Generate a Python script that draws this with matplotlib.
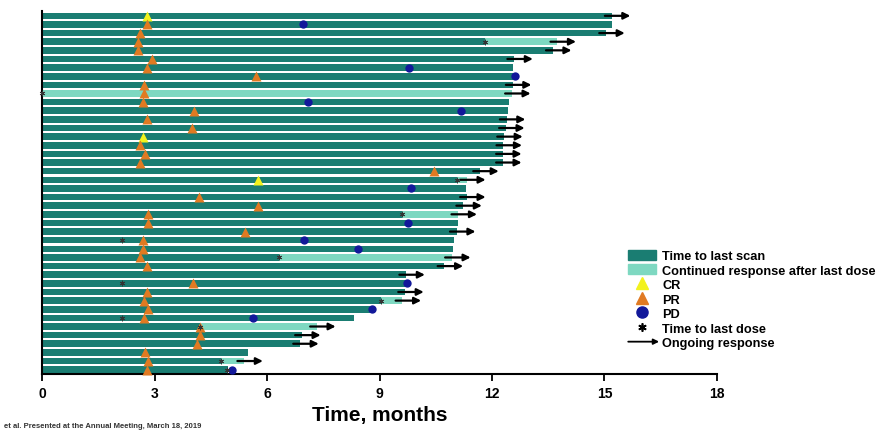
import numpy as np
import matplotlib
matplotlib.use("Agg")
import matplotlib.pyplot as plt
from matplotlib.patches import Patch, FancyArrowPatch
from matplotlib.lines import Line2D
from matplotlib.legend_handler import HandlerBase

plt.rcParams['font.family'] = ['Liberation Sans', 'DejaVu Sans']
plt.rcParams['font.weight'] = 'bold'

nan = np.nan

# one entry per patient, top row first (months)
scan_end = [15.19, 15.21, 15.04, 11.81, 13.62, 12.59, 12.57, 12.56, 12.55, 0.0,
            12.46, 12.43, 12.39, 12.37, 12.32, 12.30, 12.29, 12.29, 11.68, 11.06,
            11.31, 11.33, 11.23, 9.59, 11.09, 11.06, 11.00, 10.95, 6.33, 10.73,
            9.71, 9.71, 9.68, 9.03, 8.83, 8.33, 4.21, 6.93, 6.88, 5.50,
            4.77, 4.96]
resp_end = [nan, nan, nan, 13.74, nan, nan, nan, nan, nan, 12.53,
            nan, nan, nan, nan, nan, nan, nan, nan, nan, 11.33,
            nan, nan, nan, 11.10, nan, nan, nan, nan, 10.93, nan,
            nan, nan, nan, 9.61, nan, nan, 7.33, nan, nan, nan,
            5.39, nan]
last_dose = [nan, nan, nan, 11.81, nan, nan, nan, nan, nan, 0.0,
             nan, nan, nan, nan, nan, nan, nan, nan, nan, 11.06,
             nan, nan, nan, 9.59, nan, nan, 2.13, nan, 6.33, nan,
             nan, 2.13, nan, 9.03, nan, 2.13, 4.21, nan, nan, nan,
             4.77, 4.93]
ongoing = [1, 0, 1, 1, 1, 1, 0, 0, 1, 1,
           0, 0, 1, 1, 1, 1, 1, 1, 1, 1,
           0, 1, 1, 1, 0, 1, 0, 0, 1, 1,
           1, 0, 1, 1, 0, 0, 1, 1, 1, 0,
           1, 0]
resp_time = [2.79, 2.79, 2.61, 2.55, 2.55, 2.93, 2.79, 5.71, 2.73, 2.73,
             2.69, 4.05, 2.79, 3.99, 2.69, 2.61, 2.75, 2.61, 10.46, 5.75,
             nan, 4.19, 5.75, 2.82, 2.83, 5.41, 2.70, 2.69, 2.61, 2.79,
             nan, 4.02, 2.79, 2.73, 2.83, 2.73, 4.21, 4.21, 4.14, 2.75,
             2.82, 2.79]
resp_type = ['CR', 'PR', 'PR', 'PR', 'PR', 'PR', 'PR', 'PR', 'PR', 'PR',
             'PR', 'PR', 'PR', 'PR', 'CR', 'PR', 'PR', 'PR', 'PR', 'CR',
             None, 'PR', 'PR', 'PR', 'PR', 'PR', 'PR', 'PR', 'PR', 'PR',
             None, 'PR', 'PR', 'PR', 'PR', 'PR', 'PR', 'PR', 'PR', 'PR',
             'PR', 'PR']
pd_time = [nan, 6.97, nan, nan, nan, nan, 9.79, 12.61, nan, nan,
           7.10, 11.17, nan, nan, nan, nan, nan, nan, nan, nan,
           9.84, nan, nan, nan, 9.77, nan, 6.99, 8.43, nan, nan,
           nan, 9.74, nan, nan, 8.79, 5.62, nan, nan, nan, nan,
           nan, 5.06]

xticks = [0, 3, 6, 9, 12, 15, 18]

dark = '#1a7d72'
light = '#7ed8c1'
cr_col = '#f2f21e'
pr_col = '#e07a22'
pd_col = '#12189a'

n = len(scan_end)
y = np.arange(n)[::-1]
scan_end = np.array(scan_end)
resp_end = np.array(resp_end)
last_dose = np.array(last_dose)
resp_time = np.array(resp_time, dtype=float)
pd_time = np.array(pd_time)

fig = plt.figure(figsize=(8.94, 4.31), dpi=100)
ax = fig.add_axes([0.047, 0.130, 0.755, 0.843])

bh = 0.76
ax.barh(y, scan_end, height=bh, color=dark, zorder=2)
has_light = ~np.isnan(resp_end)
ax.barh(y[has_light], resp_end[has_light] - scan_end[has_light],
        left=scan_end[has_light], height=bh, color=light, zorder=2)

# arrows for ongoing responses
tot_end = np.where(has_light, resp_end, scan_end)
for yi, e, og in zip(y, tot_end, ongoing):
    if og:
        ax.annotate('', xy=(e + 0.5, yi), xytext=(e - 0.18, yi),
                    arrowprops=dict(arrowstyle='-|>', color='black', lw=1.6,
                                    mutation_scale=10, shrinkA=0, shrinkB=0),
                    zorder=4)

rt = np.array([t == 'CR' for t in resp_type])
pr = np.array([t == 'PR' for t in resp_type])
ax.plot(resp_time[rt], y[rt], ls='none', marker='^', ms=6.5, color=cr_col,
        mec='none', zorder=5, clip_on=False)
ax.plot(resp_time[pr], y[pr], ls='none', marker='^', ms=6.5, color=pr_col,
        mec='none', zorder=5, clip_on=False)
ok = ~np.isnan(pd_time)
ax.plot(pd_time[ok], y[ok], ls='none', marker='o', ms=6, color=pd_col,
        mec='none', zorder=5)
ok = ~np.isnan(last_dose)
ax.plot(last_dose[ok], y[ok], ls='none', marker=(6, 2, 0), ms=4, color='#333333',
        mew=0.6, zorder=6, clip_on=False)

ax.set_xlim(0, 18)
ax.set_ylim(-0.5, 41.6)
ax.set_yticks([])
ax.set_xticks(xticks)
ax.set_xticklabels([str(t) for t in xticks], fontsize=10, fontweight='bold')
ax.tick_params(axis='x', direction='out', length=5, width=1.3, pad=4)
for s in ['top', 'right']:
    ax.spines[s].set_visible(False)
for s in ['left', 'bottom']:
    ax.spines[s].set_linewidth(1.5)
ax.set_xlabel('Time, months', fontsize=15, fontweight='bold', labelpad=3)


class ArrowHandler(HandlerBase):
    def create_artists(self, legend, orig_handle, xdescent, ydescent,
                       width, height, fontsize, trans):
        a = FancyArrowPatch((-xdescent, height / 2 - ydescent),
                            (width - xdescent + 2, height / 2 - ydescent),
                            arrowstyle='-|>', mutation_scale=8, color='black',
                            lw=1.3, shrinkA=0, shrinkB=0, transform=trans)
        return [a]


arrow_handle = object()
handles = [Patch(color=dark), Patch(color=light),
           Line2D([], [], ls='none', marker='^', ms=8, color=cr_col),
           Line2D([], [], ls='none', marker='^', ms=8, color=pr_col),
           Line2D([], [], ls='none', marker='o', ms=8, color=pd_col),
           Line2D([], [], ls='none', marker=(6, 2, 0), ms=6, mew=1.2, color='black'),
           arrow_handle]
labels = ['Time to last scan', 'Continued response after last dose', 'CR', 'PR',
          'PD', 'Time to last dose', 'Ongoing response']
fig.legend(handles, labels, loc='upper left', bbox_to_anchor=(0.697, 0.43),
           frameon=False, prop={'size': 9.2, 'weight': 'bold'},
           handlelength=2.2, handleheight=0.8, labelspacing=0.17,
           handletextpad=0.45, borderaxespad=0,
           handler_map={arrow_handle: ArrowHandler()})

fig.text(0.005, 0.002, 'et al. Presented at the Annual Meeting, March 18, 2019',
         fontsize=5.5, color='#333333', va='bottom')

fig.savefig('out.png', dpi=100)
